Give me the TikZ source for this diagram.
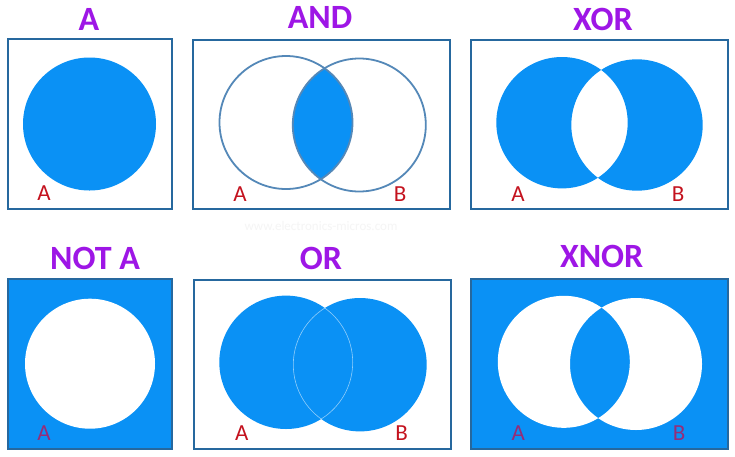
\documentclass[tikz,border=0pt]{standalone}
\usepackage{fontspec}
\setmainfont{Carlito}
\definecolor{vblue}{RGB}{10,145,245}
\definecolor{vframe}{RGB}{38,104,158}
\definecolor{vring}{RGB}{84,136,184}
\definecolor{vtitle}{RGB}{158,22,230}
\definecolor{vlab}{RGB}{196,18,30}
\definecolor{vlabdark}{RGB}{150,45,120}
\begin{document}
\begin{tikzpicture}[x=1pt,y=-1pt,
  frame/.style={draw=vframe,line width=2pt},
  ttl/.style={anchor=base,text=vtitle,font=\fontsize{34}{37}\selectfont\bfseries,inner sep=0pt},
  lab/.style={anchor=base,text=vlab,font=\fontsize{23}{26}\selectfont,inner sep=0pt},
  labd/.style={anchor=base,text=vlabdark,font=\fontsize{23}{26}\selectfont,inner sep=0pt}]
\useasboundingbox[fill=white] (0,0) rectangle (735,456);
% ---------- A ----------
\fill[vblue] (89.5,124) circle (66.5);
\draw[frame] (8,39) rectangle (172,209);
\node[ttl] (tA) at (89,30.5) {A};
\node[lab] (lA1) at (44,200) {A};
% ---------- AND ----------
\begin{scope}
  \clip (286,122.5) circle (66.5);
  \fill[vblue] (359.3,125) circle (66.5);
\end{scope}
\draw[vring,line width=1.8pt] (286,122.5) circle (66.5);
\draw[vring,line width=1.8pt] (359.3,125) circle (66.5);
\draw[frame] (193,40) rectangle (450,209);
\node[ttl] (tAND) at (320,28.5) {AND};
\node[lab] (lA2) at (240,201) {A};
\node[lab] (lB2) at (400,201) {B};
% ---------- XOR ----------
\fill[vblue,even odd rule] (562,122.7) circle (65.7) (637,125) circle (65.7);
\draw[frame] (470.7,40) rectangle (727.7,209);
\node[ttl] (tXOR) at (603,30) {XOR};
\node[lab] (lA3) at (518,201) {A};
\node[lab] (lB3) at (678,201) {B};
% ---------- watermark ----------
\node[text=black!4,font=\fontsize{13}{15}\selectfont,inner sep=0pt] (wm) at (321,226) {www.electronics-micros.com};
% ---------- NOT A ----------
\fill[vblue] (8,278.7) rectangle (172,448.7);
\fill[white] (90,363.7) circle (65);
\draw[frame] (8,278.7) rectangle (172,448.7);
\node[ttl] (tNOT) at (95,269.5) {NOT A};
\node[labd] (lA4) at (44,440) {A};
% ---------- OR ----------
\fill[vblue] (286,362.3) circle (66.7);
\fill[vblue] (360,364.7) circle (66.7);
\begin{scope}
  \clip (360,364.7) circle (66.7);
  \draw[vblue!45!white,line width=0.6pt] (286,362.3) circle (66.7);
\end{scope}
\begin{scope}
  \clip (286,362.3) circle (66.7);
  \draw[vblue!45!white,line width=0.6pt] (360,364.7) circle (66.7);
\end{scope}
\draw[frame] (194,279.5) rectangle (450.5,448.5);
\node[ttl] (tOR) at (321,269.5) {OR};
\node[lab] (lA5) at (241.7,440) {A};
\node[lab] (lB5) at (401.7,440) {B};
% ---------- XNOR ----------
\fill[vblue] (470.7,278.7) rectangle (727.7,448.7);
\fill[white,even odd rule] (563.8,361.8) circle (66) (636,364) circle (66);
\draw[frame] (470.7,278.7) rectangle (727.7,448.7);
\node[ttl] (tXNOR) at (601.7,267.5) {XNOR};
\node[labd] (lA6) at (518.3,440) {A};
\node[labd] (lB6) at (679,440) {B};
\end{tikzpicture}
\end{document}
